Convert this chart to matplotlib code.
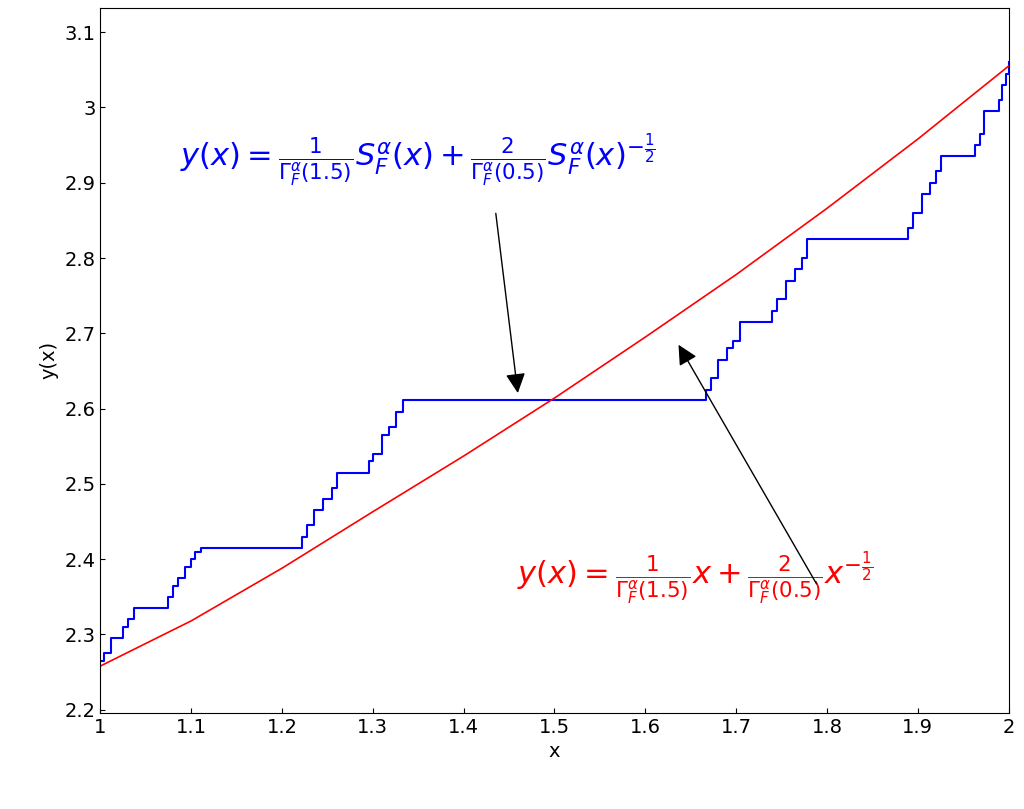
import matplotlib
matplotlib.use("Agg")
import matplotlib.pyplot as plt

red_x = [1.0, 1.1, 1.2, 1.3, 1.4, 1.5, 1.6, 1.7, 1.8, 1.9, 2.0]
red_y = [2.258, 2.318, 2.388, 2.463, 2.537, 2.614, 2.695, 2.778, 2.866, 2.958, 3.055]

blue_x = [1.0, 1.004, 1.012, 1.025, 1.03, 1.037, 1.074, 1.08, 1.085, 1.093, 1.1, 1.104, 1.111,
          1.222, 1.228, 1.235, 1.245, 1.255, 1.26, 1.296, 1.3, 1.31, 1.318, 1.325, 1.333,
          1.667, 1.672, 1.68, 1.69, 1.697, 1.704, 1.74, 1.745, 1.755, 1.765, 1.772, 1.778,
          1.889, 1.895, 1.905, 1.913, 1.92, 1.926, 1.963, 1.968, 1.973, 1.989, 1.993, 1.997, 2.0]
blue_y = [2.265, 2.275, 2.295, 2.31, 2.32, 2.335, 2.35, 2.365, 2.375, 2.39, 2.4, 2.41, 2.415,
          2.43, 2.445, 2.465, 2.48, 2.495, 2.515, 2.53, 2.54, 2.565, 2.575, 2.595, 2.612,
          2.625, 2.64, 2.665, 2.68, 2.69, 2.715, 2.73, 2.745, 2.77, 2.785, 2.8, 2.825,
          2.84, 2.86, 2.885, 2.9, 2.915, 2.935, 2.95, 2.965, 2.995, 3.01, 3.03, 3.045, 3.06]

fig = plt.figure(figsize=(10.24, 8.09), dpi=100)
ax = fig.add_axes([0.098, 0.119, 0.887, 0.871])
ax.step(blue_x, blue_y, where='post', color='blue', lw=1.5)
ax.plot(red_x, red_y, color='red', lw=1.2)
ax.set_xlim(1, 2)
ax.set_ylim(2.196, 3.132)
ax.set_xticks([1, 1.1, 1.2, 1.3, 1.4, 1.5, 1.6, 1.7, 1.8, 1.9, 2])
ax.set_xticklabels(['1', '1.1', '1.2', '1.3', '1.4', '1.5', '1.6', '1.7', '1.8', '1.9', '2'])
ax.set_yticks([2.2, 2.3, 2.4, 2.5, 2.6, 2.7, 2.8, 2.9, 3.0, 3.1])
ax.set_yticklabels(['2.2', '2.3', '2.4', '2.5', '2.6', '2.7', '2.8', '2.9', '3', '3.1'])
ax.tick_params(labelsize=14, direction='in')
ax.set_xlabel('x', fontsize=14)
ax.set_ylabel('y(x)', fontsize=14)

ax.text(1.349, 2.93, r'$y(x)=\frac{1}{\Gamma_F^\alpha(1.5)}S_F^\alpha(x)+\frac{2}{\Gamma_F^\alpha(0.5)}S_F^\alpha(x)^{-\frac{1}{2}}$',
        color='blue', fontsize=22, ha='center', va='center')
ax.text(1.655, 2.375, r'$y(x)=\frac{1}{\Gamma_F^\alpha(1.5)}x+\frac{2}{\Gamma_F^\alpha(0.5)}x^{-\frac{1}{2}}$',
        color='red', fontsize=22, ha='center', va='center')
ax.annotate('', xy=(1.46, 2.617), xytext=(1.435, 2.863),
            arrowprops=dict(arrowstyle='-|>', color='black', lw=1, mutation_scale=30))
ax.annotate('', xy=(1.635, 2.688), xytext=(1.79, 2.364),
            arrowprops=dict(arrowstyle='-|>', color='black', lw=1, mutation_scale=30))
fig.savefig('out.png', dpi=100)
